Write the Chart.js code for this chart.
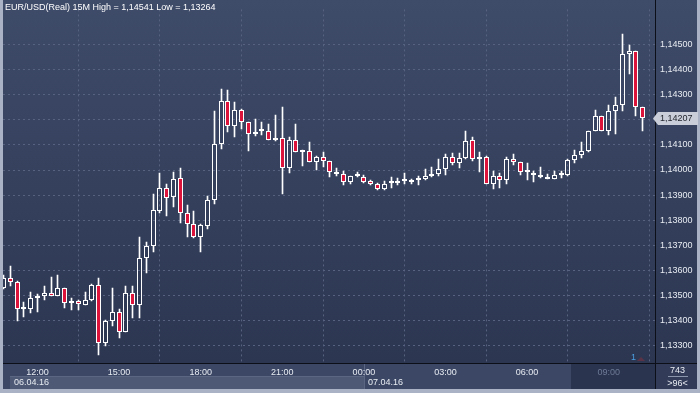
<!DOCTYPE html>
<html>
<head>
<meta charset="utf-8">
<script src="https://cdn.jsdelivr.net/npm/chart.js@4.4.1/dist/chart.umd.min.js"></script>
<style>
  html, body { margin: 0; padding: 0; background: #3b4765; }
  canvas { display: block; }
</style>
</head>
<body>
<canvas id="myChart" width="700" height="393"></canvas>
<script>
// EUR/USD 15M candles, 06.04.16 10:45 -> 07.04.16 10:15
const opens = [
  1.13531, 1.13570, 1.13554, 1.13446, 1.13446, 1.13492, 1.13497, 1.13512, 1.13500, 1.13531,
  1.13469, 1.13477, 1.13463, 1.13484, 1.13542, 1.13309, 1.13398, 1.13433, 1.13356, 1.13512,
  1.13461, 1.13648, 1.13697, 1.13836, 1.13928, 1.13891, 1.13967, 1.13830, 1.13784, 1.13735,
  1.13777, 1.13879, 1.14104, 1.14273, 1.14176, 1.14238, 1.14192, 1.14145, 1.14156, 1.14156,
  1.14118, 1.14129, 1.14009, 1.14119, 1.14072, 1.14075, 1.14032, 1.14051, 1.14036, 1.13993,
  1.13985, 1.13954, 1.13978, 1.13974, 1.13958, 1.13946, 1.13923, 1.13947, 1.13950, 1.13958,
  1.13954, 1.13962, 1.13966, 1.13978, 1.13985, 1.14005, 1.14051, 1.14028, 1.14048, 1.14118,
  1.14044, 1.14051, 1.13946, 1.13978, 1.13962, 1.14044, 1.14032, 1.13993, 1.13989, 1.13981,
  1.13974, 1.13966, 1.13981, 1.13981, 1.14040, 1.14059, 1.14075, 1.14157, 1.14215, 1.14157,
  1.14234, 1.14258, 1.14464, 1.14472, 1.14250
];
const highs = [
  1.13580, 1.13617, 1.13556, 1.13473, 1.13515, 1.13505, 1.13539, 1.13574, 1.13582, 1.13531,
  1.13492, 1.13484, 1.13515, 1.13547, 1.13570, 1.13402, 1.13531, 1.13446, 1.13539, 1.13539,
  1.13733, 1.13713, 1.13905, 1.13990, 1.13944, 1.13994, 1.14009, 1.13862, 1.13835, 1.13783,
  1.13898, 1.14235, 1.14321, 1.14317, 1.14270, 1.14243, 1.14192, 1.14203, 1.14193, 1.14184,
  1.14219, 1.14250, 1.14130, 1.14185, 1.14080, 1.14110, 1.14055, 1.14071, 1.14036, 1.14009,
  1.13997, 1.13978, 1.13993, 1.13981, 1.13962, 1.13950, 1.13958, 1.13974, 1.13970, 1.13989,
  1.13966, 1.13978, 1.14005, 1.14012, 1.14044, 1.14063, 1.14067, 1.14067, 1.14157, 1.14133,
  1.14072, 1.14055, 1.13997, 1.13989, 1.14051, 1.14063, 1.14032, 1.14028, 1.13997, 1.14012,
  1.13985, 1.13997, 1.13997, 1.14044, 1.14079, 1.14110, 1.14157, 1.14238, 1.14215, 1.14258,
  1.14290, 1.14541, 1.14499, 1.14472, 1.14250
];
const lows = [
  1.13525, 1.13539, 1.13400, 1.13415, 1.13431, 1.13434, 1.13484, 1.13500, 1.13497, 1.13450,
  1.13442, 1.13442, 1.13461, 1.13477, 1.13264, 1.13298, 1.13380, 1.13329, 1.13356, 1.13411,
  1.13411, 1.13590, 1.13675, 1.13830, 1.13816, 1.13852, 1.13789, 1.13734, 1.13728, 1.13672,
  1.13766, 1.13863, 1.14085, 1.14151, 1.14132, 1.14164, 1.14077, 1.14137, 1.14141, 1.14118,
  1.14114, 1.13904, 1.13988, 1.14071, 1.14015, 1.14032, 1.14001, 1.14011, 1.13974, 1.13978,
  1.13939, 1.13946, 1.13974, 1.13950, 1.13939, 1.13919, 1.13919, 1.13927, 1.13939, 1.13946,
  1.13946, 1.13939, 1.13962, 1.13974, 1.13978, 1.13981, 1.14020, 1.14009, 1.14044, 1.14036,
  1.13993, 1.13946, 1.13925, 1.13929, 1.13943, 1.14020, 1.13981, 1.13962, 1.13954, 1.13970,
  1.13966, 1.13966, 1.13970, 1.13978, 1.14028, 1.14048, 1.14070, 1.14155, 1.14155, 1.14141,
  1.14145, 1.14234, 1.14381, 1.14215, 1.14157
];
const closes = [
  1.13570, 1.13554, 1.13446, 1.13447, 1.13492, 1.13497, 1.13512, 1.13500, 1.13531, 1.13469,
  1.13477, 1.13465, 1.13484, 1.13542, 1.13309, 1.13398, 1.13433, 1.13356, 1.13512, 1.13461,
  1.13648, 1.13697, 1.13839, 1.13927, 1.13890, 1.13966, 1.13827, 1.13784, 1.13734, 1.13779,
  1.13880, 1.14102, 1.14273, 1.14176, 1.14238, 1.14192, 1.14145, 1.14153, 1.14157, 1.14118,
  1.14126, 1.14009, 1.14119, 1.14071, 1.14076, 1.14032, 1.14051, 1.14036, 1.13993, 1.13985,
  1.13954, 1.13978, 1.13979, 1.13954, 1.13943, 1.13923, 1.13946, 1.13950, 1.13958, 1.13959,
  1.13962, 1.13966, 1.13978, 1.13985, 1.14005, 1.14051, 1.14028, 1.14048, 1.14114, 1.14044,
  1.14051, 1.13946, 1.13978, 1.13962, 1.14044, 1.14032, 1.13993, 1.13994, 1.13981, 1.13974,
  1.13966, 1.13981, 1.13982, 1.14040, 1.14059, 1.14075, 1.14157, 1.14215, 1.14157, 1.14234,
  1.14258, 1.14464, 1.14472, 1.14250, 1.14207
];

// candle index of each time label (index 0 = 10:45)
const xTickIndex = [5, 17, 29, 41, 53, 65, 77, 89];
const xTickLabels = ['12:00', '15:00', '18:00', '21:00', '00:00', '03:00', '06:00', '09:00'];
const yTicks = [1.133, 1.134, 1.135, 1.136, 1.137, 1.138, 1.139, 1.140, 1.141, 1.142, 1.143, 1.144, 1.145];
const dateLabels = ['06.04.16', '07.04.16'];
const dateStartIndex = [1, 53];
const titleText = 'EUR/USD(Real) 15M High = 1,14541 Low = 1,13264';

const FAMILY = '"Liberation Sans", Arial, sans-serif';
const FONT = '9px ' + FAMILY;
const TEXT = '#e8ecf2';
const RED = '#dc143c';

const fmt = v => v.toFixed(5).replace('.', ',');

const upperWick = opens.map((o, i) => ({ x: i, y: [Math.max(o, closes[i]), highs[i]] }));
const lowerWick = opens.map((o, i) => ({ x: i, y: [lows[i], Math.min(o, closes[i])] }));
const bodies = opens.map((o, i) => ({ x: i, y: [o, closes[i]] }));
const bodyFill = opens.map((o, i) => (closes[i] < o ? RED : 'rgba(0,0,0,0)'));

// snap bars to whole pixels so the thin candles stay crisp
const snap = {
  id: 'snap',
  beforeDatasetsDraw(chart) {
    chart.data.datasets.forEach((ds, di) => {
      chart.getDatasetMeta(di).data.forEach(el => {
        el.x = Math.floor(el.x) + 0.5;
        const top = Math.round(Math.min(el.y, el.base));
        const bot = Math.round(Math.max(el.y, el.base));
        if (el.y < el.base) { el.y = top; el.base = bot; } else { el.y = bot; el.base = top; }
      });
    });
  }
};

const panels = {
  id: 'panels',
  beforeDraw(chart) {
    const { ctx, chartArea: a, width, height } = chart;
    const x = chart.scales.x;
    ctx.save();
    const g = ctx.createLinearGradient(0, 0, 0, a.bottom);
    g.addColorStop(0, '#3e4b69');
    g.addColorStop(1, '#2c3651');
    ctx.fillStyle = g;
    ctx.fillRect(0, 0, width, a.bottom);

    ctx.fillStyle = '#3b4765';
    ctx.fillRect(0, a.bottom, width, height - a.bottom);

    // date row, first day highlighted
    const d0 = Math.round(x.getPixelForValue(dateStartIndex[0]));
    const d1 = Math.round(x.getPixelForValue(dateStartIndex[1]));
    ctx.fillStyle = '#4d5975';
    ctx.fillRect(d0, 376, d1 - d0, 13);
    ctx.fillStyle = '#5a6682';
    ctx.fillRect(d0, 376, d1 - d0, 1);
    ctx.fillRect(d1, 364, 1, 25);

    // current session box
    const s = Math.round(x.getPixelForValue(83.4));
    ctx.fillStyle = '#2b344f';
    ctx.fillRect(s, a.bottom, a.right - s, 389 - a.bottom);

    ctx.fillStyle = '#323c58';
    ctx.fillRect(a.right, a.bottom, width - a.right, 389 - a.bottom);
    ctx.restore();
  },
  afterDraw(chart) {
    const { ctx, chartArea: a, width, height } = chart;
    const x = chart.scales.x;
    const y = chart.scales.y;
    ctx.save();
    // separators
    ctx.fillStyle = '#0c0f17';
    ctx.fillRect(0, a.bottom, width, 1);
    ctx.fillRect(a.right - 1, 0, 1, 389);
    // outer frame
    ctx.fillStyle = '#a9b3c5';
    ctx.fillRect(0, 0, 3, height);
    ctx.fillRect(width - 3, 0, 3, height);
    ctx.fillRect(0, 389, width, height - 389);

    ctx.font = FONT;
    ctx.textBaseline = 'middle';
    ctx.fillStyle = '#ffffff';
    ctx.textAlign = 'left';
    ctx.fillText(titleText, 5, 8);

    ctx.fillStyle = TEXT;
    dateLabels.forEach((t, i) => {
      ctx.fillText(t, Math.round(x.getPixelForValue(dateStartIndex[i])) + 4, 383);
    });

    // bar counter marker
    ctx.fillStyle = '#4a9fe2';
    ctx.fillText('1', 631, 358);
    ctx.fillStyle = '#5a3446';
    ctx.beginPath();
    ctx.moveTo(637, 361); ctx.lineTo(641, 357); ctx.lineTo(645, 361);
    ctx.closePath(); ctx.fill();

    // last price tag
    const last = closes[closes.length - 1];
    const py = Math.round(y.getPixelForValue(last)) + 0.5;
    ctx.fillStyle = '#c9ced8';
    ctx.beginPath();
    ctx.moveTo(a.right - 3, py);
    ctx.lineTo(a.right + 2, py - 6.5);
    ctx.lineTo(width - 2, py - 6.5);
    ctx.lineTo(width - 2, py + 6.5);
    ctx.lineTo(a.right + 2, py + 6.5);
    ctx.closePath(); ctx.fill();
    ctx.fillStyle = '#23262d';
    ctx.fillText(fmt(last), a.right + 4, py);

    // bars shown box
    ctx.fillStyle = TEXT;
    ctx.textAlign = 'center';
    ctx.fillText('743', 677.5, 371);
    ctx.fillText('>96<', 677.5, 383.5);
    ctx.fillStyle = '#8a95ab';
    ctx.fillRect(668, 376, 20, 1);
    ctx.restore();
  }
};

new Chart('myChart', {
  type: 'bar',
  data: {
    datasets: [
      { data: upperWick, backgroundColor: '#ffffff', barThickness: 1, borderWidth: 0, grouped: false },
      { data: lowerWick, backgroundColor: '#ffffff', barThickness: 1, borderWidth: 0, grouped: false },
      {
        data: bodies, backgroundColor: bodyFill, borderColor: '#ffffff', borderWidth: 1,
        borderSkipped: false, barThickness: 5, minBarLength: 2, inflateAmount: 0, grouped: false
      }
    ]
  },
  options: {
    responsive: false,
    animation: false,
    devicePixelRatio: 1,
    layout: { padding: { left: 3, right: 0, top: 0, bottom: 0 }, autoPadding: false },
    plugins: { legend: { display: false }, tooltip: { enabled: false } },
    scales: {
      x: {
        type: 'linear',
        min: -0.074,
        max: 95.96,
        offset: false,
        afterFit(s) { s.height = 30; },
        afterBuildTicks(s) { s.ticks = xTickIndex.map(v => ({ value: v })); },
        grid: { color: '#56627f', drawTicks: false },
        border: { display: false, dash: [2, 3] },
        ticks: {
          autoSkip: false, maxRotation: 0, padding: 4,
          font: { family: FAMILY, size: 9 },
          color: c => (c.index === xTickLabels.length - 1 ? '#6d7a96' : TEXT),
          callback: (v, i) => xTickLabels[i]
        }
      },
      y: {
        position: 'right',
        min: 1.1323133,
        max: 1.1463967,
        afterFit(s) { s.width = 44; },
        afterBuildTicks(s) { s.ticks = yTicks.map(v => ({ value: v })); },
        grid: { color: '#56627f', drawTicks: false },
        border: { display: false, dash: [2, 3] },
        ticks: {
          padding: 4,
          font: { family: FAMILY, size: 9 },
          color: TEXT,
          callback: v => fmt(v)
        }
      }
    }
  },
  plugins: [snap, panels]
});
</script>
</body>
</html>
